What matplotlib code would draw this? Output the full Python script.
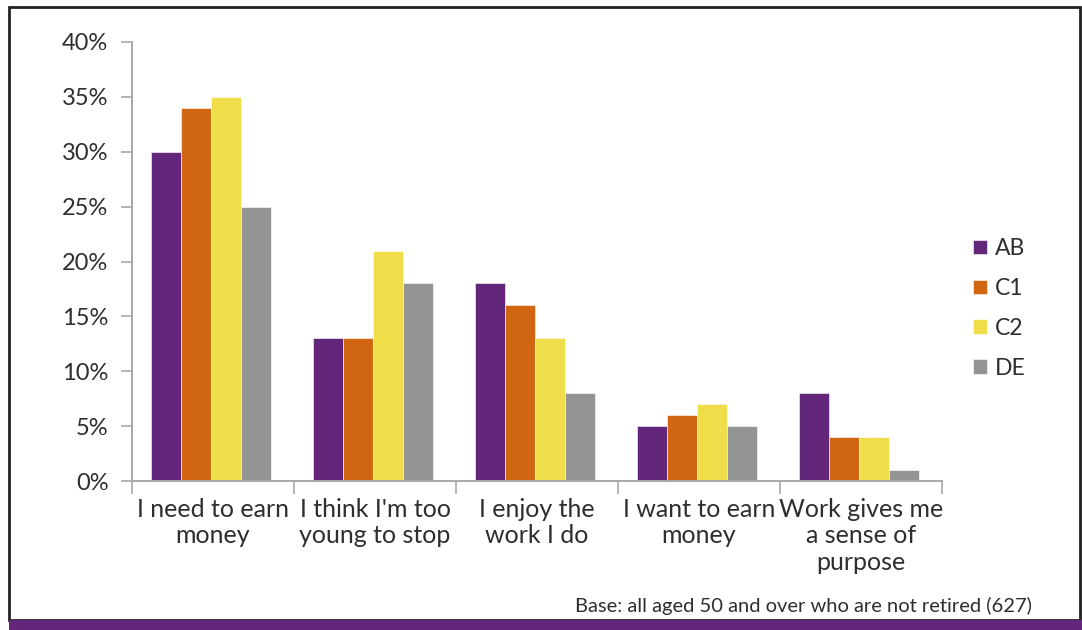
import matplotlib
matplotlib.use("Agg")
import matplotlib.pyplot as plt
import numpy as np
from matplotlib.patches import Rectangle

categories = ["I need to earn\nmoney", "I think I'm too\nyoung to stop", "I enjoy the\nwork I do",
              "I want to earn\nmoney", "Work gives me\na sense of\npurpose"]
series_names = ["AB", "C1", "C2", "DE"]
ab = [30, 13, 18, 5, 8]
c1 = [34, 13, 16, 6, 4]
c2 = [35, 21, 13, 7, 4]
de = [25, 18, 8, 5, 1]
yticks = [0, 5, 10, 15, 20, 25, 30, 35, 40]
footnote = "Base: all aged 50 and over who are not retired (627)"

colors = ["#62267a", "#d06612", "#f0dd4a", "#939493"]
text_color = "#2e2e2e"
axis_color = "#a8a8a8"

plt.rcParams["font.family"] = ["Lato", "DejaVu Sans"]

fig = plt.figure(figsize=(10.82, 6.30), dpi=100)
ax = fig.add_axes([132 / 1082, 149 / 630, 810 / 1082, 439 / 630])

x = np.arange(len(categories))
width = 0.185
for i, (vals, name) in enumerate(zip([ab, c1, c2, de], series_names)):
    ax.bar(x + (i - 1.5) * width - 0.01, vals, width, color=colors[i], label=name,
           edgecolor="white", linewidth=0.4)

ax.set_xlim(-0.5, len(categories) - 0.5)
ax.set_ylim(0, 40)
ax.set_yticks(yticks)
ax.set_yticklabels([f"{v}%" for v in yticks], fontsize=17, color=text_color)
ax.set_xticks(np.arange(len(categories) + 1) - 0.5)
ax.set_xticklabels([])
ax.set_xticks(x, minor=True)
ax.set_xticklabels(categories, minor=True, fontsize=18, color=text_color, linespacing=1.2)
ax.tick_params(axis="x", which="minor", length=0, pad=12)
ax.tick_params(axis="x", which="major", length=9, width=1.2, color=axis_color, direction="out")
ax.tick_params(axis="y", length=8, width=1.2, color=axis_color, pad=9)

for side in ["top", "right"]:
    ax.spines[side].set_visible(False)
for side in ["left", "bottom"]:
    ax.spines[side].set_color(axis_color)
    ax.spines[side].set_linewidth(1.4)

leg = fig.legend(loc="upper left", bbox_to_anchor=(964 / 1082, 1 - 229 / 630), frameon=False,
                 fontsize=16.5, handlelength=0.6, handleheight=0.6, handletextpad=0.35,
                 labelspacing=0.82, borderaxespad=0)
for t in leg.get_texts():
    t.set_color(text_color)

fig.text(1032 / 1082, 1 - 606 / 630, footnote, ha="right", va="center", fontsize=14.5, color=text_color)

# outer frame and bottom band
fig.patches.append(Rectangle((9 / 1082, 10 / 630), 1071 / 1082, 613 / 630, transform=fig.transFigure,
                             fill=False, edgecolor="#222222", linewidth=2))
fig.patches.append(Rectangle((9 / 1082, 0), 1073 / 1082, 10 / 630, transform=fig.transFigure,
                             facecolor="#62267a", edgecolor="none"))

fig.savefig("out.png", dpi=100)
